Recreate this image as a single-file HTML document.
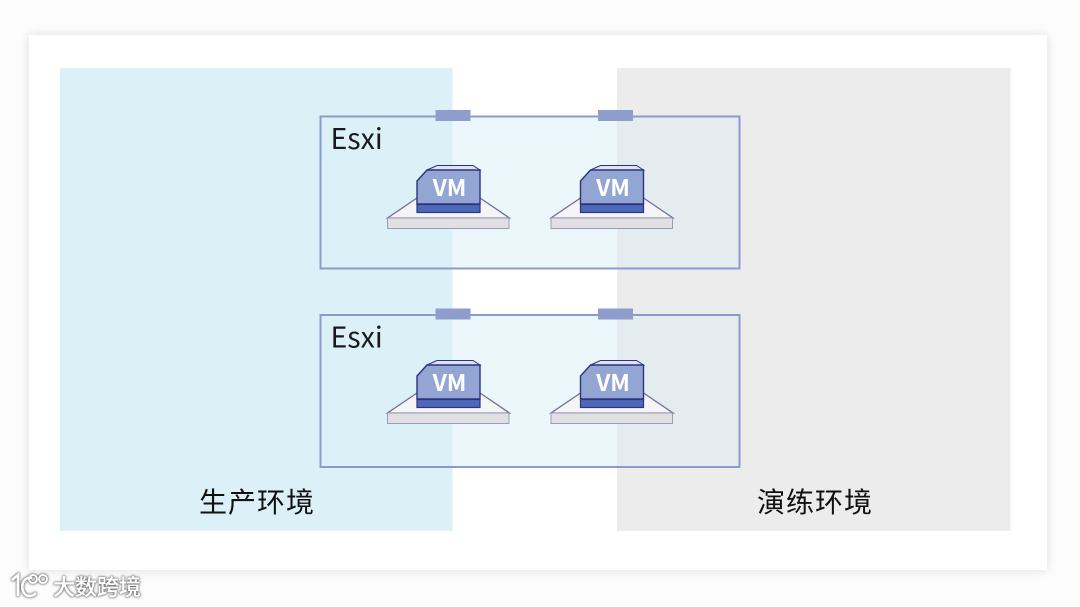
<!DOCTYPE html>
<html lang="zh">
<head>
<meta charset="utf-8">
<style>
html,body{margin:0;padding:0;width:1080px;height:607px;overflow:hidden;background:#fcfcfc}
svg{display:block}
text{font-family:"Noto Sans CJK SC","Liberation Sans",sans-serif}
</style>
</head>
<body>
<svg width="1080" height="607" viewBox="0 0 1080 607" xmlns="http://www.w3.org/2000/svg">
<defs>
<filter id="s" x="-5%" y="-5%" width="110%" height="110%"><feGaussianBlur stdDeviation="5"/></filter>
<filter id="w" x="-10%" y="-30%" width="120%" height="160%">
<feMorphology in="SourceAlpha" operator="dilate" radius="0.6" result="d"/>
<feGaussianBlur in="d" stdDeviation="1.1" result="b"/>
<feFlood flood-color="#666" flood-opacity="1"/>
<feComposite in2="b" operator="in" result="g"/>
<feMerge><feMergeNode in="g"/><feMergeNode in="SourceGraphic"/></feMerge>
</filter>
<g id="vm">
<polygon points="417,198 480,198 509.500,218 387.500,218" fill="#f5f5f8" stroke="#6f6f9a" stroke-width="1.300"/>
<rect x="387.500" y="218" width="121.500" height="10.500" fill="#e0e0e2" stroke="#9c9cb6" stroke-width="1"/>
<polygon points="427,170 437,165.500 473,165.500 480,170" fill="#dfe2f0" stroke="#2c3480" stroke-width="1"/>
<polygon points="417,181 427,170 480,170 480,204 417,204" fill="#93a5d3" stroke="#2c3480" stroke-width="1.400"/>
<rect x="417" y="204.500" width="63" height="8" fill="#4d67b9" stroke="#2c3480" stroke-width="1.200"/>
<text x="449.500" y="196" font-size="23" font-weight="700" fill="#fff" text-anchor="middle">VM</text>
</g>
<g id="box">
<rect x="452.500" y="116.500" width="164.500" height="152" fill="#ebf7fb"/>
<rect x="617" y="116.500" width="122.500" height="152" fill="#e4ecf0"/>
<rect x="320.500" y="116.500" width="419" height="152" fill="none" stroke="#8a9ccb" stroke-width="2"/>
<rect x="435.500" y="110" width="35" height="11" fill="#8e9ecc"/>
<rect x="598" y="110" width="35" height="11" fill="#8e9ecc"/>
<text x="330.500" y="149" font-size="28.500" fill="#1a1a1a">Esxi</text>
</g>
</defs>

<rect x="29" y="35" width="1018" height="535" fill="#000" opacity=".12" filter="url(#s)"/>
<rect x="29" y="35" width="1018" height="535" fill="#fff"/>
<rect x="60" y="68" width="392.500" height="463" fill="#dcf0f8"/>
<rect x="617" y="68" width="393.500" height="463" fill="#ececec"/>

<use href="#box"/>
<use href="#box" y="198.500"/>

<use href="#vm"/>
<use href="#vm" x="163.500"/>
<use href="#vm" y="195"/>
<use href="#vm" x="163.500" y="195"/>

<text x="199" y="512" font-size="28" fill="#111" textLength="115">生产环境</text>
<text x="757" y="512" font-size="28" fill="#111" textLength="115">演练环境</text>

<g filter="url(#w)">
<path d="M12 580 L18 575 L18 596 M32 578 C22 576 19 590 26 595 C29 597 33 596 36 593" fill="none" stroke="#fff" stroke-width="2.500"/>
<circle cx="33" cy="579" r="4" fill="none" stroke="#fff" stroke-width="1.800"/>
<circle cx="43" cy="579" r="4" fill="none" stroke="#fff" stroke-width="1.800"/>
<text x="53" y="595" font-size="22" font-weight="500" fill="#fff" textLength="88">大数跨境</text>
</g>
</svg>
</body>
</html>
